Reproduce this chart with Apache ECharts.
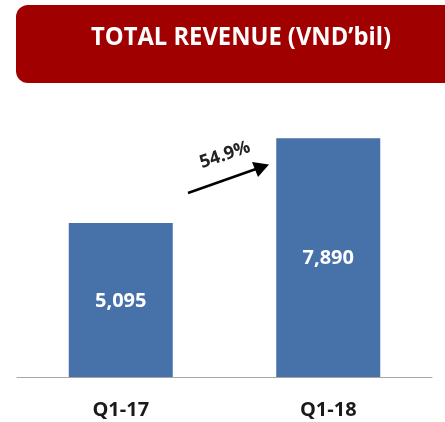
<!DOCTYPE html>
<html><head><meta charset="utf-8">
<script src="https://cdn.jsdelivr.net/npm/echarts@6/dist/echarts.min.js"></script>
<style>html,body{margin:0;padding:0;background:#fff}#c{width:445px;height:422px}</style>
</head><body><div id="c"></div>
<script>
const categories = ['Q1-17', 'Q1-18'];
const revenue = [5095, 7890];
const growthLabel = '54.9%';
const titleText = 'TOTAL REVENUE (VND\u2019bil)';

const chart = echarts.init(document.getElementById('c'), null, {renderer: 'canvas'});
const font = '"Open Sans", "Noto Sans", sans-serif';
chart.setOption({
  animation: false,
  grid: {left: 17, right: 13, top: 135, bottom: 45},
  xAxis: {
    type: 'category', data: categories,
    axisLine: {lineStyle: {color: '#A6A6A6', width: 1}},
    axisTick: {show: false},
    axisLabel: {color: '#1a1a1a', fontFamily: font, fontWeight: 'bold', fontSize: 20, margin: 23}
  },
  yAxis: {type: 'value', min: 0, max: 8000, show: false, splitLine: {show: false}},
  series: [{
    type: 'bar', data: revenue, barWidth: 104,
    itemStyle: {color: '#4671A9'},
    label: {show: true, position: 'inside', offset: [0, 1], color: '#fff', fontFamily: font, fontWeight: 'bold', fontSize: 20,
      formatter: p => p.value.toLocaleString('en-US')}
  }],
  graphic: [
    {type: 'rect', shape: {x: 16, y: 5, width: 450, height: 78, r: [12, 0, 0, 12]}, style: {fill: '#A00000'}, z: 1},
    {type: 'text', x: 241, y: 38, scaleX: 0.95, style: {text: titleText, fill: '#fff', font: 'bold 25px ' + font, textAlign: 'center', textVerticalAlign: 'middle'}, z: 2},
    {type: 'line', shape: {x1: 188, y1: 193, x2: 256, y2: 169}, style: {stroke: '#000', lineWidth: 2.5}, z: 5},
    {type: 'polygon', shape: {points: [[269, 164.5], [252, 162], [258, 177]]}, style: {fill: '#000'}, z: 5},
    {type: 'text', x: 225, y: 155, rotation: 0.33, style: {text: growthLabel, fill: '#222', font: 'bold 18px ' + font, textAlign: 'center', textVerticalAlign: 'middle'}, z: 5}
  ]
});
</script></body></html>
